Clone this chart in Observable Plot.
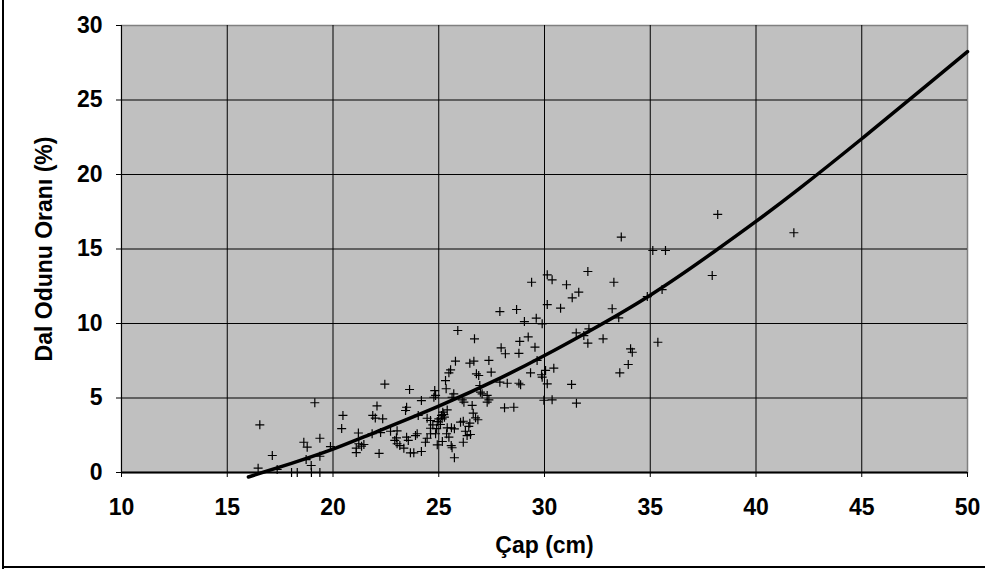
<!DOCTYPE html>
<html><head><meta charset="utf-8">
<script src="https://cdn.jsdelivr.net/npm/d3@7"></script>
<script src="https://cdn.jsdelivr.net/npm/@observablehq/plot@0.6"></script>
<style>
html,body{margin:0;padding:0;background:#fff;}
#wrap{position:relative;width:985px;height:571px;overflow:hidden;}
.bl{position:absolute;background:#000;}
</style></head><body>
<div id="wrap"></div>
<script>
// Çap (cm)
const diameter = [16.54,16.46,17.13,17.36,18.04,18.31,18.62,18.78,18.73,18.97,18.98,19.14,19.38,19.38,19.38,19.88,20.41,20.47,21.2,21.1,21.22,21.35,21.46,21.1,21.88,22.0,22.35,22.08,22.45,22.18,21.85,22.25,22.72,23.03,23.0,22.92,23.03,23.16,23.62,24.81,24.85,24.77,25.32,25.35,24.18,23.48,23.43,24.03,24.45,24.61,24.72,24.61,24.93,25.13,25.19,25.4,23.48,23.56,23.35,23.98,23.9,23.66,23.82,24.18,24.37,24.45,24.61,24.85,24.93,25.24,25.16,25.27,26.63,26.74,26.85,26.03,26.16,26.47,26.42,25.4,25.74,25.37,25.48,26.26,26.34,26.5,26.16,25.59,25.63,25.74,25.71,25.63,26.11,26.19,26.58,28.11,28.55,25.56,25.48,25.79,26.47,26.66,27.37,26.78,26.89,27.48,26.94,26.97,27.05,27.29,27.37,27.29,27.89,28.24,28.79,28.87,29.34,29.65,29.86,29.89,30.05,30.13,29.97,30.36,27.95,28.15,28.83,28.79,29.55,29.23,26.69,25.9,27.89,28.68,29.05,29.61,29.89,29.39,30.13,30.36,31.04,32.05,31.62,31.31,33.28,30.13,30.76,33.2,33.51,31.5,32.1,31.86,32.05,32.77,35.36,34.07,34.15,33.96,33.56,33.63,35.12,35.72,35.56,34.86,37.93,38.19,41.79,30.44,31.28,31.51,25.6,25.0,24.9,25.08,25.17];
// Dal Odunu Oranı (%)
const branchPct = [3.2,0.29,1.14,0.2,0,0,2.03,1.7,0.87,0.47,0,4.68,2.3,1.09,0,1.74,2.95,3.83,2.65,1.63,1.93,1.77,1.88,1.34,3.83,3.65,3.6,4.47,5.93,1.28,2.6,2.68,2.77,2.8,2.33,2.15,1.93,1.81,5.57,5.5,5.17,5.05,6.17,5.62,4.83,4.38,4.16,3.83,3.64,3.49,3.2,2.97,3.42,3.83,4.05,4.2,2.37,2.15,1.63,2.6,2.48,1.32,1.32,1.41,2.03,2.3,2.6,2.6,1.86,3.89,3.6,3.71,3.98,3.67,3.54,3.38,3.44,3.31,3.09,3.0,2.93,2.6,2.37,2.77,2.48,2.55,2.03,1.81,1.66,0.99,5.28,5.05,4.88,4.72,4.5,4.34,4.38,6.89,6.69,7.47,7.34,7.47,7.52,6.62,6.51,6.73,5.84,5.39,5.28,5.17,4.88,4.72,6.06,5.99,5.99,5.89,6.69,7.52,6.56,6.4,6.85,5.95,4.85,4.88,8.37,7.97,8.8,8.0,8.41,9.1,8.97,9.53,10.8,10.94,10.13,10.36,9.98,12.77,13.27,12.93,12.6,13.49,12.1,11.72,12.77,11.27,11.03,10.99,10.38,9.37,9.64,9.19,8.68,8.97,8.74,8.3,8.07,7.25,6.69,15.8,14.9,14.9,12.28,11.81,13.22,17.32,16.09,7.0,5.91,4.65,3.0,3.6,2.95,3.22,2.08];
// fitted trend curve
const fitX = [16,18,20,22,25,28,30,32,35,38,40,42,45,48,50];
const fitY = [-0.3,0.6,1.57,2.7,4.45,6.4,7.85,9.4,11.9,14.8,16.85,19.0,22.4,25.9,28.25];
const xTicks = [10,15,20,25,30,35,40,45,50];
const yTicks = [0,5,10,15,20,25,30];
const xLabel = "Çap (cm)";
const yLabel = "Dal Odunu Oranı (%)";

const points = diameter.map((d, i) => ({x: d, y: branchPct[i]}));
const fit = fitX.map((d, i) => ({x: d, y: fitY[i]}));
const plusSymbol = {
  draw(ctx, size) {
    const r = Math.sqrt(size / Math.PI);
    ctx.moveTo(-r, 0); ctx.lineTo(r, 0);
    ctx.moveTo(0, -r); ctx.lineTo(0, r);
  }
};

const chart = Plot.plot({
  width: 985,
  height: 571,
  marginLeft: 121,
  marginRight: 18,
  marginTop: 25,
  marginBottom: 99,
  style: {fontFamily: "'Liberation Sans', Arial, sans-serif", fontWeight: "bold", fontSize: "23px", color: "#000", background: "transparent", overflow: "visible"},
  x: {domain: [10, 50]},
  y: {domain: [0, 30]},
  marks: [
    Plot.frame({fill: "#c0c0c0", stroke: "#808080", strokeWidth: 1.5}),
    Plot.gridX(xTicks.slice(1, -1), {stroke: "#000", strokeOpacity: 1, strokeWidth: 1}),
    Plot.gridY(yTicks.slice(1, -1), {stroke: "#000", strokeOpacity: 1, strokeWidth: 1}),
    Plot.ruleX([10], {stroke: "#000", strokeWidth: 1}),
    Plot.ruleY([0], {stroke: "#000", strokeWidth: 2}),
    Plot.axisX(xTicks, {tickSize: 5, tickPadding: 21, label: xLabel, labelAnchor: "center", labelOffset: 80, labelArrow: "none", stroke: "#000"}),
    Plot.axisY(yTicks, {tickSize: 5, tickPadding: 14, label: yLabel, labelAnchor: "center", labelOffset: 86, labelArrow: "none", stroke: "#000"}),
    Plot.dot(points, {x: "x", y: "y", symbol: plusSymbol, r: 4.5, stroke: "#000", fill: "none", strokeWidth: 1.2}),
    Plot.line(fit, {x: "x", y: "y", curve: "natural", stroke: "#000", strokeWidth: 3.5})
  ]
});
const wrap = document.getElementById("wrap");
wrap.appendChild(chart);
const borders = [
  {left: 2, top: 0, width: 2, height: 569},
  {left: 2, top: 566, width: 983, height: 2}
];
for (const b of borders) {
  const d = document.createElement("div");
  d.className = "bl";
  Object.assign(d.style, {left: b.left + "px", top: b.top + "px", width: b.width + "px", height: b.height + "px"});
  wrap.appendChild(d);
}
</script>
</body></html>
